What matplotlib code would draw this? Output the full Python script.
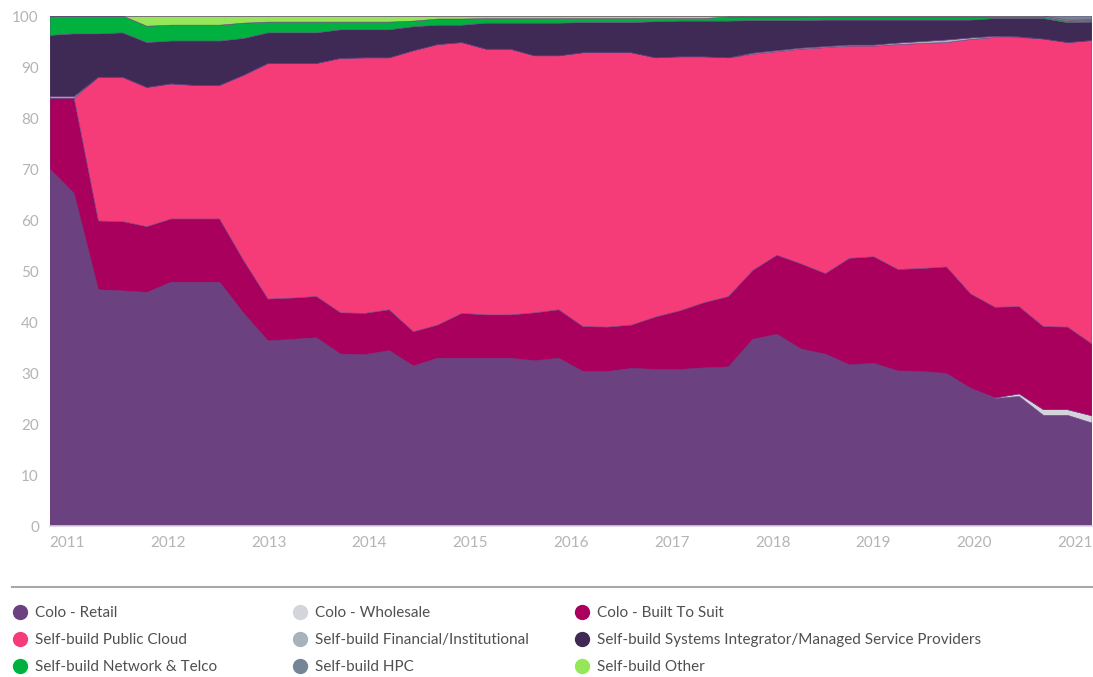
import numpy as np
import matplotlib
matplotlib.use("Agg")
import matplotlib.pyplot as plt
from matplotlib.lines import Line2D

plt.rcParams['font.family'] = ['Lato', 'DejaVu Sans']

# quarterly share of capacity (%), 2011 Q1 onwards
colo_retail = [70.0, 65.2, 46.3, 46.1, 45.8, 47.8, 47.8, 47.8, 41.7, 36.3,
               36.6, 36.9, 33.7, 33.6, 34.4, 31.4, 32.9, 32.9, 32.9, 32.9,
               32.4, 32.9, 30.3, 30.3, 30.9, 30.7, 30.7, 31.0, 31.2, 36.6,
               37.6, 34.7, 33.7, 31.6, 31.9, 30.4, 30.3, 29.9, 27.0, 25.0,
               25.4, 21.7, 21.7, 20.2]
colo_wholesale = [0.0] * 39 + [0.1, 0.5, 1.1, 1.1, 1.4]
colo_bts = [13.9, 18.7, 13.5, 13.6, 12.9, 12.4, 12.4, 12.4, 10.3, 8.2,
            8.1, 8.1, 8.1, 8.1, 8.0, 6.7, 6.5, 8.8, 8.5, 8.5,
            9.4, 9.5, 8.8, 8.7, 8.5, 10.3, 11.5, 12.8, 13.8, 13.5,
            15.5, 16.7, 15.8, 20.9, 20.9, 19.9, 20.2, 20.9, 18.5, 17.8,
            17.1, 16.3, 16.2, 14.1]
public_cloud = [0.0, 0.0, 28.2, 28.3, 27.3, 26.5, 26.2, 26.2, 36.4, 46.2,
                46.0, 45.7, 49.9, 50.1, 49.4, 55.1, 55.0, 53.1, 52.1, 52.1,
                50.4, 49.8, 53.7, 53.8, 53.4, 50.8, 49.8, 48.2, 46.8, 42.4,
                39.9, 42.1, 44.3, 41.6, 41.3, 44.1, 44.1, 44.0, 49.9, 52.9,
                52.8, 56.4, 55.8, 59.5]
financial = ([0.3, 0.3] + [0.0] * 27 +
             [0.2, 0.2, 0.2, 0.2, 0.2, 0.2, 0.3, 0.4, 0.5, 0.3, 0.2, 0.1] +
             [0.0, 0.0, 0.0])
systems_integrator = [12.0, 12.3, 8.5, 8.7, 8.8, 8.4, 8.7, 8.7, 7.2, 6.0,
                      6.0, 6.0, 5.6, 5.5, 5.5, 4.7, 3.8, 3.4, 5.1, 5.1,
                      6.4, 6.4, 5.9, 5.9, 5.9, 7.1, 7.0, 7.0, 7.2, 6.4,
                      5.9, 5.4, 5.2, 4.9, 4.9, 4.5, 4.2, 3.9, 3.5, 3.5,
                      3.6, 4.0, 3.9, 3.6]
network_telco = [3.8, 3.5, 3.5, 3.3, 3.2, 3.1, 3.1, 3.1, 3.0, 2.1,
                 2.1, 2.1, 1.5, 1.5, 1.5, 1.1, 1.2, 1.2, 0.9, 0.9,
                 0.9, 0.9, 0.8, 0.8, 0.8, 0.6, 0.5, 0.5, 0.8, 0.7,
                 0.7, 0.7, 0.6, 0.6, 0.6, 0.6, 0.6, 0.6, 0.6, 0.3,
                 0.3, 0.3, 0.3, 0.4]
other = [0.0, 0.0, 0.0, 0.0, 2.0, 1.8, 1.8, 1.8, 1.4, 1.2,
         1.2, 1.2, 1.2, 1.2, 1.2, 1.0, 0.6, 0.6, 0.5, 0.5,
         0.5, 0.5, 0.5, 0.5, 0.5, 0.5, 0.5, 0.5, 0.2, 0.2,
         0.2, 0.2, 0.2, 0.2, 0.2, 0.2, 0.2, 0.2, 0.2, 0.2,
         0.2, 0.2, 0.2, 0.1]
hpc = [0.0] * 42 + [0.8, 0.7]

years = list(range(2011, 2022))

# stacking order, bottom to top
series = [
    ("Colo - Retail", colo_retail, "#6c4180"),
    ("Colo - Wholesale", colo_wholesale, "#d4d4dc"),
    ("Colo - Built To Suit", colo_bts, "#a8005c"),
    ("Self-build Public Cloud", public_cloud, "#f53c78"),
    ("Self-build Financial/Institutional", financial, "#a6b3ba"),
    ("Self-build Systems Integrator/Managed Service Providers", systems_integrator, "#3e2a55"),
    ("Self-build Network & Telco", network_telco, "#00b140"),
    ("Self-build Other", other, "#95e658"),
    ("Self-build HPC", hpc, "#758595"),
]
colors = {name: c for name, _, c in series}

fig = plt.figure(figsize=(10.93, 6.77), dpi=100)
ax = fig.add_axes([50 / 1093, 1 - 526 / 677, 1042 / 1093, 510 / 677])

x = np.arange(len(colo_retail))
cols = [c for _, _, c in series]
ax.stackplot(x, *[v for _, v, _ in series], colors=cols,
             edgecolor=cols, linewidth=0.4)

ax.set_xlim(0, len(x) - 1)
ax.set_ylim(0, 100)
ax.set_yticks(range(0, 101, 10))
# year labels sit roughly 4.16 quarters apart on the original axis
ax.set_xticks([0.7 + 4.16 * k for k in range(len(years))])
ax.set_xticklabels([str(y) for y in years])
ax.tick_params(axis='both', length=0, colors='#b4b4b4', labelsize=11)
ax.tick_params(axis='y', pad=8)
ax.tick_params(axis='x', pad=7)
for s in ['top', 'right', 'left']:
    ax.spines[s].set_visible(False)
ax.spines['bottom'].set_color('#d8d2e0')
ax.spines['bottom'].set_linewidth(1.2)

# separator above legend
fig.add_artist(Line2D([12 / 1093, 1092 / 1093], [1 - 587 / 677] * 2,
                      color='#a8a8a8', linewidth=1.5))

legend_cols = [
    ["Colo - Retail", "Self-build Public Cloud", "Self-build Network & Telco"],
    ["Colo - Wholesale", "Self-build Financial/Institutional", "Self-build HPC"],
    ["Colo - Built To Suit",
     "Self-build Systems Integrator/Managed Service Providers",
     "Self-build Other"],
]
col_x = [12, 292, 574]
for names, cx in zip(legend_cols, col_x):
    handles = [Line2D([], [], marker='o', linestyle='none', markersize=10,
                      markerfacecolor=colors[n], markeredgecolor=colors[n])
               for n in names]
    fig.legend(handles, names, loc='upper left',
               bbox_to_anchor=(cx / 1093, 1 - 606 / 677),
               frameon=False, fontsize=11, labelcolor='#505050',
               handlelength=1.0, handletextpad=0.5, labelspacing=0.85,
               borderpad=0, borderaxespad=0)

fig.savefig("out.png", dpi=100)
